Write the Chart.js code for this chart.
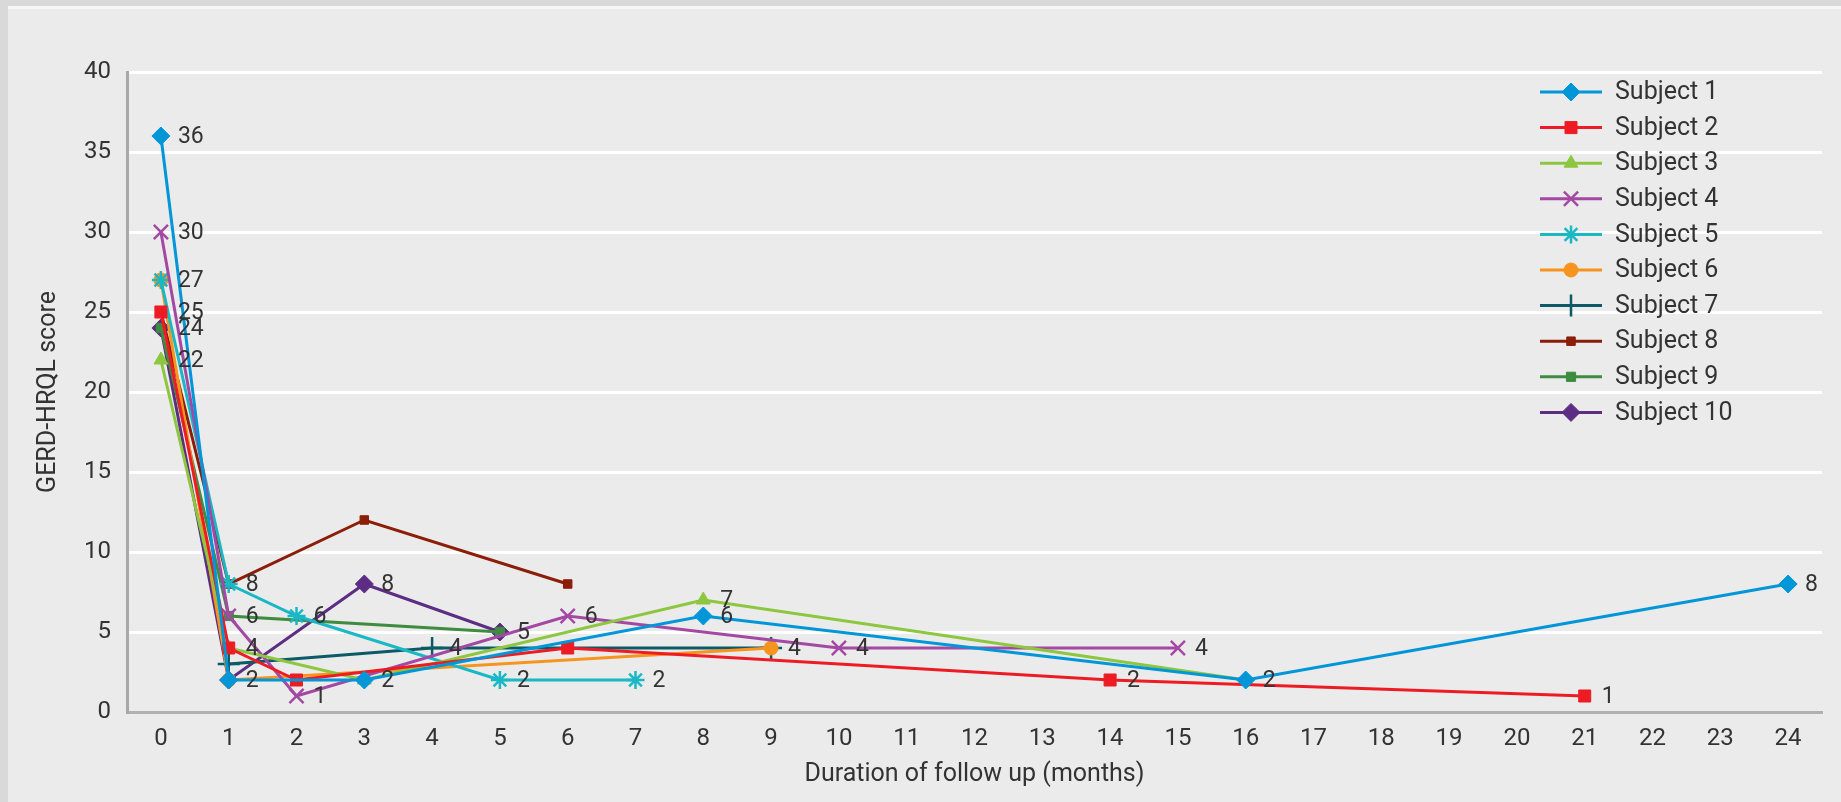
<!DOCTYPE html>
<html>
<head>
<meta charset="utf-8">
<script src="https://cdn.jsdelivr.net/npm/chart.js@4"></script>
<style>
  html, body { margin: 0; padding: 0; background: #ebebeb; overflow: hidden; }
  #frameTop { position: absolute; left: 0; top: 0; width: 1841px; height: 6px; background: #d9d9d9; }
  #frameLine { position: absolute; left: 8px; top: 6px; width: 1833px; height: 3px; background: #f7f7f7; }
  #frameLeft { position: absolute; left: 0; top: 0; width: 8px; height: 802px; background: #d9d9d9; }
  #wrap { position: absolute; left: 0; top: 0; width: 1841px; height: 802px; }
</style>
</head>
<body>
<div id="frameTop"></div>
<div id="frameLine"></div>
<div id="frameLeft"></div>
<div id="wrap"><canvas id="gerdChart"></canvas></div>
<script>
// Follow-up months (x) and GERD-HRQL scores (y) per subject
const monthLabels = ['0','1','2','3','4','5','6','7','8','9','10','11','12',
  '13','14','15','16','17','18','19','20','21','22','23','24'];
const yTicks = [0, 5, 10, 15, 20, 25, 30, 35, 40];

const s1Months = [0, 1, 3, 8, 16, 24];
const s1Scores = [36, 2, 2, 6, 2, 8];
const s1Shown  = [1, 1, 1, 1, 1, 1];

const s2Months = [0, 1, 2, 6, 14, 21];
const s2Scores = [25, 4, 2, 4, 2, 1];
const s2Shown  = [1, 0, 0, 0, 1, 1];

const s3Months = [0, 1, 3, 8, 16];
const s3Scores = [22, 4, 2, 7, 2];
const s3Shown  = [1, 1, 0, 1, 0];

const s4Months = [0, 1, 2, 6, 10, 15];
const s4Scores = [30, 6, 1, 6, 4, 4];
const s4Shown  = [1, 0, 1, 1, 1, 1];

const s5Months = [0, 1, 2, 5, 7];
const s5Scores = [27, 8, 6, 2, 2];
const s5Shown  = [1, 1, 1, 1, 1];

const s6Months = [0, 1, 9];
const s6Scores = [27, 2, 4];
const s6Shown  = [0, 0, 1];

const s7Months = [1, 4, 9];
const s7Scores = [3, 4, 4];
const s7Shown  = [0, 1, 0];

const s8Months = [0, 1, 3, 6];
const s8Scores = [25, 8, 12, 8];
const s8Shown  = [0, 0, 0, 0];

const s9Months = [0, 1, 5];
const s9Scores = [24, 6, 5];
const s9Shown  = [0, 1, 0];

const s10Months = [0, 1, 3, 5];
const s10Scores = [24, 2, 8, 5];
const s10Shown  = [1, 0, 1, 1];

const FONT = 'Roboto, "Liberation Sans", sans-serif';
const TEXT = '#333333';

function points(months, scores) {
  // category axis: x must be the label string
  return months.map((m, i) => ({ x: String(m), y: scores[i] }));
}

function series(label, months, scores, shown, color, style, radius, bw) {
  return {
    label: label,
    data: points(months, scores),
    shown: shown,
    borderColor: color,
    backgroundColor: color,
    borderWidth: 3,
    pointStyle: style,
    pointRadius: radius,
    pointHoverRadius: radius,
    pointBorderWidth: bw,
    pointBackgroundColor: color,
    pointBorderColor: color,
    tension: 0
  };
}

const datasets = [
  series('Subject 1', s1Months, s1Scores, s1Shown, '#0096d8', 'rectRot', 9, 1),
  series('Subject 2', s2Months, s2Scores, s2Shown, '#ed1c24', 'rect', 8.5, 1),
  series('Subject 3', s3Months, s3Scores, s3Shown, '#8dc63f', 'triangle', 8, 1),
  series('Subject 4', s4Months, s4Scores, s4Shown, '#a349a4', 'crossRot', 10, 2.5),
  series('Subject 5', s5Months, s5Scores, s5Shown, '#19b8c4', 'star', 9, 2.5),
  series('Subject 6', s6Months, s6Scores, s6Shown, '#f7941d', 'circle', 7, 1),
  series('Subject 7', s7Months, s7Scores, s7Shown, '#0b5a66', 'cross', 11, 2.5),
  series('Subject 8', s8Months, s8Scores, s8Shown, '#8c1d08', 'rect', 6, 1),
  series('Subject 9', s9Months, s9Scores, s9Shown, '#3d8c40', 'rect', 6.5, 1),
  series('Subject 10', s10Months, s10Scores, s10Shown, '#5c2d83', 'rectRot', 9, 1)
];

// value labels to the right of selected points
const pointLabels = {
  id: 'pointLabels',
  afterDatasetsDraw(chart) {
    const ctx = chart.ctx;
    ctx.save();
    ctx.font = '23px ' + FONT;
    ctx.fillStyle = TEXT;
    ctx.textBaseline = 'middle';
    ctx.textAlign = 'left';
    chart.data.datasets.forEach((ds, di) => {
      const meta = chart.getDatasetMeta(di);
      meta.data.forEach((pt, i) => {
        if (ds.shown[i]) ctx.fillText(String(ds.data[i].y), pt.x + 17, pt.y + 1);
      });
    });
    ctx.restore();
  }
};

// legend drawn inside the plot, top right
const sideLegend = {
  id: 'sideLegend',
  afterDraw(chart) {
    const ctx = chart.ctx;
    ctx.save();
    chart.data.datasets.forEach((ds, i) => {
      const y = 92 + i * 35.6;
      ctx.strokeStyle = ds.borderColor;
      ctx.fillStyle = ds.borderColor;
      ctx.lineWidth = 3;
      ctx.beginPath();
      ctx.moveTo(1540, y);
      ctx.lineTo(1602, y);
      ctx.stroke();
      ctx.lineWidth = ds.pointBorderWidth;
      Chart.helpers.drawPoint(ctx, {
        pointStyle: ds.pointStyle,
        radius: ds.pointRadius,
        borderWidth: ds.pointBorderWidth,
        rotation: 0
      }, 1571, y);
      ctx.fillStyle = TEXT;
      ctx.font = '25px ' + FONT;
      ctx.textBaseline = 'middle';
      ctx.textAlign = 'left';
      ctx.fillText(ds.label, 1615, y + 1);
    });
    ctx.restore();
  }
};

const ctx = document.getElementById('gerdChart').getContext('2d');
const gerdChart = new Chart(ctx, {
  type: 'line',
  data: { labels: monthLabels, datasets: datasets },
  options: {
    responsive: true,
    maintainAspectRatio: false,
    animation: false,
    layout: { padding: { top: 72, right: 19, left: 0, bottom: 0 } },
    plugins: {
      legend: { display: false },
      tooltip: { enabled: false }
    },
    scales: {
      x: {
        type: 'category',
        offset: true,
        grid: { display: false, drawTicks: false },
        border: { color: '#b0b0b0', width: 3 },
        ticks: { color: TEXT, font: { family: FONT, size: 24 }, padding: 13, maxRotation: 0, autoSkip: false },
        title: {
          display: true,
          text: 'Duration of follow up (months)',
          color: TEXT,
          font: { family: FONT, size: 25 },
          padding: { top: 0, bottom: 12 }
        },
        afterFit(scale) { scale.height = 90; }
      },
      y: {
        min: 0,
        max: 40,
        afterBuildTicks(scale) { scale.ticks = yTicks.map(v => ({ value: v })); },
        grid: { color: '#ffffff', lineWidth: 3, drawTicks: false },
        border: { color: '#a8a8a8', width: 3 },
        ticks: { color: TEXT, font: { family: FONT, size: 24 }, padding: 16 },
        title: {
          display: true,
          text: 'GERD-HRQL score',
          color: TEXT,
          font: { family: FONT, size: 25 },
          padding: { top: 34, bottom: 0 }
        },
        afterFit(scale) { scale.width = 127; }
      }
    }
  },
  plugins: [pointLabels, sideLegend]
});
</script>
</body>
</html>
